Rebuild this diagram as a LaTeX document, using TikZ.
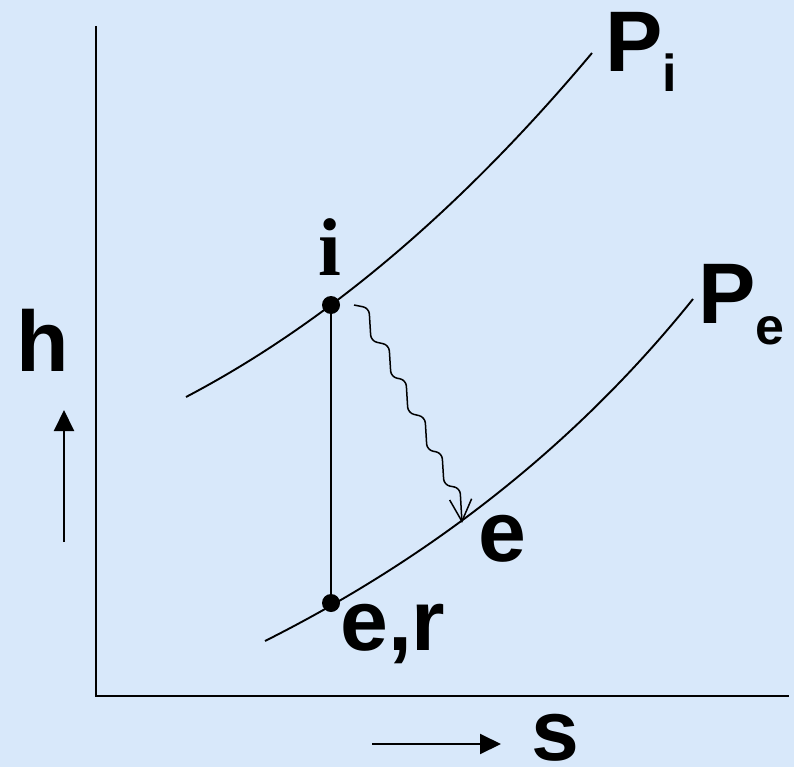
\documentclass[tikz,border=0pt]{standalone}
\usepackage{fontspec}
\setmainfont{Liberation Sans}
\newfontfamily\romanbold{Liberation Serif}
\usetikzlibrary{positioning,arrows.meta}
\definecolor{paper}{RGB}{216,232,250}
\tikzset{
  axis/.style={line width=2pt, draw=black},
  isobar/.style={line width=1.9pt, draw=black},
  state/.style={circle, fill=black, inner sep=0pt, minimum size=18pt},
  lbl/.style={anchor=base west, inner sep=0pt, font=\fontsize{86}{86}\selectfont\bfseries},
  dir/.style={-{Triangle[length=21pt, width=20pt]}, line width=2pt},
  wave/.style={-{Straight Barb[length=22pt, width=22pt]}, line width=1.5pt, rounded corners=6pt},
}
\newcommand{\subl}[2]{\raisebox{-#1pt}{\fontsize{52}{52}\selectfont #2}}

\begin{document}
\begin{tikzpicture}[x=1pt, y=-1pt]
\fill[paper] (0,0) rectangle (794,767);

% ---- axes and their direction arrows ----------------------------------
\coordinate (origin) at (96,696);
\draw[axis] (96,26) -- (origin) -- (789,696);
\coordinate (hfoot) at (64,542);
\coordinate (htip) at (64,410);
\coordinate (sfoot) at (372,744);
\coordinate (stip) at (501,744);
\draw[dir] (hfoot) -- (htip);
\draw[dir] (sfoot) -- (stip);
\node[lbl] (h) at (16,371) {h};
\node[lbl] (s) at (531,760) {s};

% ---- the two isobars -----------------------------------------------------
\draw[isobar] (186,397) .. controls (327,323) and (462,208) .. (592,53);
\draw[isobar] (265,641) .. controls (436,555) and (579,441) .. (693,299);
\node[lbl] (pi) at (605,72) {P\subl{20}{i}};
\node[lbl] (pe) at (698,323) {P\subl{21}{e}};

% ---- states: inlet, real and ideal exit ----------------------------------
\node[state] (i) at (331,305) {};
\node[state] (er) at (331,603) {};
\node[lbl, font=\fontsize{82}{82}\selectfont\romanbold\bfseries] (ilbl) at (318,275) {i};
\node[lbl] (erlbl) at (340,650) {e,r};
\node[lbl] (elbl) at (478,561) {e};
\coordinate (wstart) at (354,305);
\coordinate (e) at (462,523);

% ---- isentropic drop and real expansion ----------------------------------
\draw[line width=1.9pt] (i) -- (er);
\draw[wave] (wstart) -- (369,308) -- (371,341) -- (389,345) -- (391,377)
  -- (406,380) -- (408,413) -- (425,417) -- (427,450) -- (442,453)
  -- (444,485) -- (460,488) -- (e);
\end{tikzpicture}
\end{document}
